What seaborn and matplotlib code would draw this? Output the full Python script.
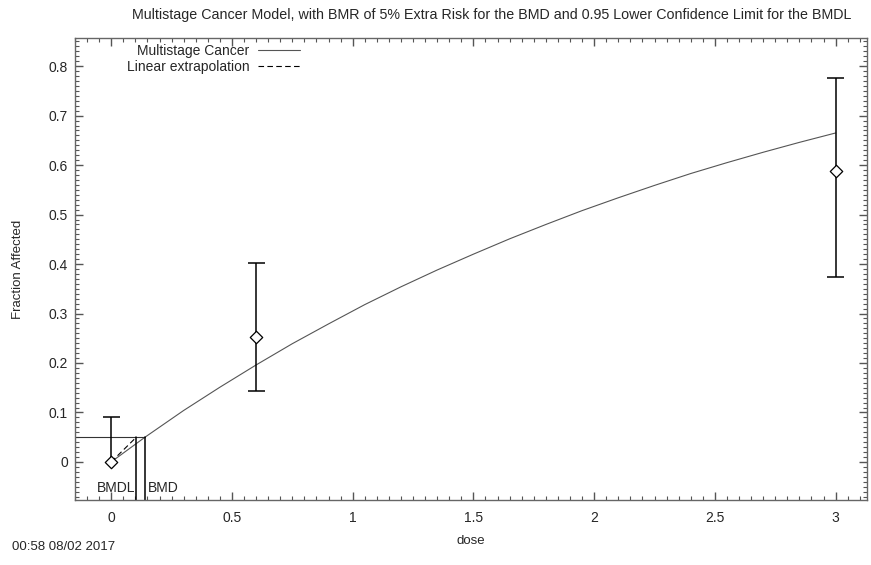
import numpy as np
import pandas as pd
import matplotlib
matplotlib.use("Agg")
import matplotlib.pyplot as plt
from matplotlib.ticker import MultipleLocator
import seaborn as sns

# ---- data ----
dose = [0.0, 0.6, 3.0]
frac = [0.0, 0.252, 0.589]
ci_low = [0.0, 0.143, 0.373]
ci_high = [0.091, 0.403, 0.777]

curve_dose = [0.0, 0.14, 0.3, 0.45, 0.6, 0.75, 0.9, 1.05, 1.2, 1.35, 1.5,
              1.65, 1.8, 1.95, 2.1, 2.25, 2.4, 2.55, 2.7, 2.85, 3.0]
curve_frac = [0.0, 0.05, 0.104, 0.151, 0.196, 0.239, 0.279, 0.318, 0.354,
              0.388, 0.420, 0.451, 0.480, 0.508, 0.534, 0.559, 0.583, 0.605,
              0.626, 0.646, 0.665]

bmr = 0.05
bmd = 0.141
bmdl = 0.104

title = ("Multistage Cancer Model, with BMR of 5% Extra Risk for the BMD "
         "and 0.95 Lower Confidence Limit for the BMDL")
stamp = "00:58 08/02 2017"

sns.set_style("ticks")
plt.rcParams["font.family"] = ["Liberation Sans", "DejaVu Sans"]

fig = plt.figure(figsize=(8.71, 5.65), dpi=100)
ax = fig.add_axes([75/871, 1-500/565, (867-75)/871, (500-38)/565])

xlim = (-0.15, 3.13)
ylim = (-0.077, 0.857)

curve_df = pd.DataFrame({"dose": curve_dose, "frac": curve_frac})
sns.lineplot(data=curve_df, x="dose", y="frac", ax=ax, color="#555555",
             linewidth=0.8, label="Multistage Cancer", estimator=None, sort=False)

# linear extrapolation
ax.plot([0, bmdl], [0, bmr], color="black", linewidth=0.8,
        linestyle=(0, (5, 3)), label="Linear extrapolation")

# BMR / BMD / BMDL lines
ax.plot([xlim[0], bmd], [bmr, bmr], color="#333333", linewidth=0.8)
ax.plot([bmd, bmd], [ylim[0], bmr], color="black", linewidth=1.1)
ax.plot([bmdl, bmdl], [ylim[0], bmr], color="black", linewidth=1.1)

# error bars (caps only where the limit differs from the point)
cap = 0.035
ax.vlines(dose, ci_low, ci_high, color="black", linewidth=1.1)
for d, f, lo, hi in zip(dose, frac, ci_low, ci_high):
    if hi != f:
        ax.hlines(hi, d - cap, d + cap, color="black", linewidth=1.1)
    if lo != f:
        ax.hlines(lo, d - cap, d + cap, color="black", linewidth=1.1)

pts = pd.DataFrame({"dose": dose, "frac": frac})
sns.scatterplot(data=pts, x="dose", y="frac", ax=ax, marker="D", s=40,
                facecolor="white", edgecolor="black", linewidth=0.9, zorder=5)

ax.text(bmdl - 0.005, -0.053, "BMDL", ha="right", va="center", fontsize=10)
ax.text(bmd + 0.012, -0.053, "BMD", ha="left", va="center", fontsize=10)

ax.set_xlim(*xlim)
ax.set_ylim(*ylim)
ax.xaxis.set_major_locator(MultipleLocator(0.5))
ax.xaxis.set_minor_locator(MultipleLocator(0.05))
ax.yaxis.set_major_locator(MultipleLocator(0.1))
ax.yaxis.set_minor_locator(MultipleLocator(0.01))
ax.set_xticks([0, 0.5, 1, 1.5, 2, 2.5, 3])
ax.set_xticklabels(["0", "0.5", "1", "1.5", "2", "2.5", "3"])
ax.set_yticks([0, 0.1, 0.2, 0.3, 0.4, 0.5, 0.6, 0.7, 0.8])
ax.set_yticklabels(["0", "0.1", "0.2", "0.3", "0.4", "0.5", "0.6", "0.7", "0.8"])
ax.tick_params(which="both", direction="in", top=True, right=True,
               color="#555555", labelsize=10)
ax.tick_params(which="major", length=6, width=1)
ax.tick_params(axis="x", which="major", pad=8)
ax.tick_params(axis="y", which="major", pad=5)
ax.tick_params(which="minor", length=3, width=0.8)
for s in ax.spines.values():
    s.set_color("#666666")
    s.set_linewidth(1.0)

ax.set_xlabel("dose", fontsize=9.5, labelpad=7)
ax.set_ylabel("Fraction Affected", fontsize=9.5, labelpad=18)

ax.legend(loc="upper left", bbox_to_anchor=(0.055, 1.005), frameon=False,
          markerfirst=False, fontsize=10, handlelength=3.0, handletextpad=0.6,
          labelspacing=0.15, borderaxespad=0.2)

fig.text(492/871, 1-15/565, title, ha="center", va="center", fontsize=10.3)
fig.text(12/871, 1-547/565, stamp, ha="left", va="center", fontsize=9.5)

fig.savefig("out.png", dpi=100)
